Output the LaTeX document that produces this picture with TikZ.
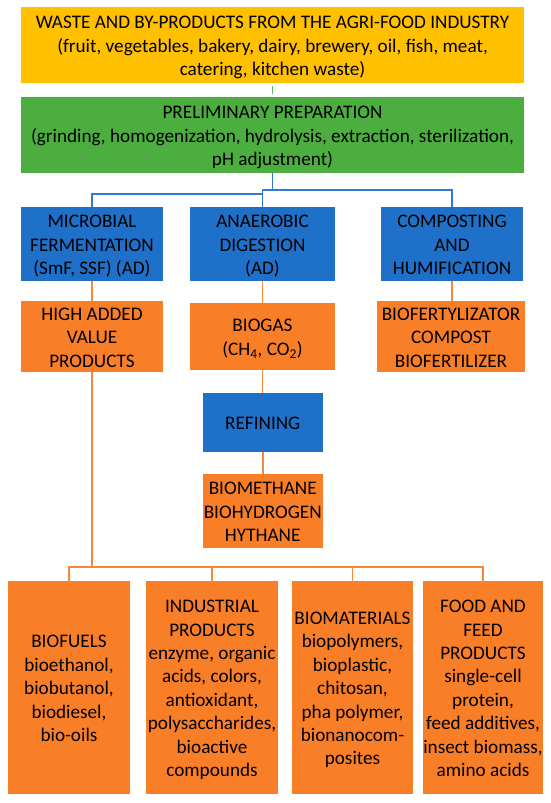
\documentclass[tikz,border=0pt]{standalone}
\usepackage{fontspec}
\setmainfont{Carlito}
\definecolor{cyellow}{HTML}{FFC000}
\definecolor{cgreen}{HTML}{4BAE3E}
\definecolor{cblue}{HTML}{1F70C8}
\definecolor{corange}{HTML}{F97E28}
\definecolor{lblue}{HTML}{2E7BD6}
\definecolor{lorange}{HTML}{F7873A}
\definecolor{lgreen}{HTML}{5CB85C}
\newcommand{\ctext}[1]{\makebox[0pt]{\raisebox{0pt}[\dimexpr\height+2.5pt][\dimexpr\depth-2.5pt]{\begin{tabular}{@{}c@{}}#1\end{tabular}}}}
\begin{document}
\begin{tikzpicture}[x=1pt,y=-1pt,
  base/.style={inner sep=0pt, outer sep=0pt, text=black, font=\fontsize{19.2}{23.4}\selectfont},
  ybox/.style={base, fill=cyellow},
  gbox/.style={base, fill=cgreen},
  bbox/.style={base, fill=cblue},
  obox/.style={base, fill=corange},
  bline/.style={draw=lblue, line width=1.6pt},
  oline/.style={draw=lorange, line width=1.6pt},
  gline/.style={draw=lgreen, line width=1.4pt}]
\useasboundingbox (0,0) rectangle (550,803);
\fill[white] (0,0) rectangle (550,803);

\node[ybox, minimum width=503pt, minimum height=76pt] (waste) at (272.5,45)
  {\ctext{WASTE AND BY-PRODUCTS FROM THE AGRI-FOOD INDUSTRY\\(fruit, vegetables, bakery, dairy, brewery, oil, fish, meat,\\catering, kitchen waste)}};
\node[gbox, minimum width=503pt, minimum height=76pt] (prep) at (272.5,135)
  {\ctext{PRELIMINARY PREPARATION\\(grinding, homogenization, hydrolysis, extraction, sterilization,\\pH adjustment)}};

\node[bbox, minimum width=142pt, minimum height=74pt] (s1) at (92,244)
  {\ctext{MICROBIAL\\FERMENTATION\\(SmF, SSF) (AD)}};
\node[bbox, minimum width=145pt, minimum height=74pt] (s2) at (262.5,244)
  {\ctext{ANAEROBIC\\DIGESTION\\(AD)}};
\node[bbox, minimum width=142pt, minimum height=74pt] (s3) at (452,244)
  {\ctext{COMPOSTING\\AND\\HUMIFICATION}};

\node[obox, minimum width=142pt, minimum height=67pt] (o1) at (92,336.5)
  {\ctext{HIGH ADDED\\VALUE\\PRODUCTS}};
\node[obox, minimum width=145pt, minimum height=67pt] (o2) at (262.5,336.5)
  {\ctext{BIOGAS\\(CH\textsubscript{4}, CO\textsubscript{2})}};
\node[obox, minimum width=148pt, minimum height=67pt] (o3) at (451,336.5)
  {\ctext{BIOFERTYLIZATOR\\COMPOST\\BIOFERTILIZER}};

\node[bbox, minimum width=120.5pt, minimum height=59pt] (ref) at (262.75,422.5)
  {\ctext{REFINING}};
\node[obox, minimum width=120.5pt, minimum height=74pt] (bm) at (262.75,511)
  {\ctext{BIOMETHANE\\BIOHYDROGEN\\HYTHANE}};

\node[obox, minimum width=122pt, minimum height=213pt] (b1) at (69,687.5)
  {\ctext{BIOFUELS\\bioethanol,\\biobutanol,\\biodiesel,\\bio-oils}};
\node[obox, minimum width=132pt, minimum height=213pt] (b2) at (212,687.5)
  {\ctext{INDUSTRIAL\\PRODUCTS\\enzyme, organic\\acids, colors,\\antioxidant,\\polysaccharides,\\bioactive\\compounds}};
\node[obox, minimum width=121pt, minimum height=213pt] (b3) at (352.5,687.5)
  {\ctext{BIOMATERIALS\\biopolymers,\\bioplastic,\\chitosan,\\pha polymer,\\bionanocom-\\posites}};
\node[obox, minimum width=120pt, minimum height=213pt] (b4) at (483,687.5)
  {\ctext{FOOD AND\\FEED\\PRODUCTS\\single-cell\\protein,\\feed additives,\\insect biomass,\\amino acids}};

% connectors
\draw[gline, shorten <=3pt, shorten >=3pt] (waste.south) -- (prep.north);

\coordinate (j1) at (272.5,190);
\coordinate (j2) at (262.5,194);
\draw[bline] (prep.south) -- (j1) -| (s3.north);
\draw[bline] (j1) -| (j2);
\draw[bline] (j2) -- (s2.north);
\draw[bline] (j2) -| (s1.north);

\draw[oline] (s1.south) -- (o1.north);
\draw[oline] (s2.south) -- (o2.north);
\draw[oline] (s3.south) -- (s3.south |- o3.north);
\draw[oline] (o2.south) -- (o2.south |- ref.north);
\draw[oline] (ref.south) -- (bm.north);

\coordinate (jb) at (92,567);
\draw[oline] (o1.south) -- (jb);
\draw[oline] (jb) -| ([yshift=-2pt]b1.north);
\draw[oline] (jb) -| ([yshift=-2pt]b2.north);
\draw[oline] (jb) -| ([yshift=-2pt]b3.north);
\draw[oline] (jb) -| ([yshift=-2pt]b4.north);
\end{tikzpicture}
\end{document}
